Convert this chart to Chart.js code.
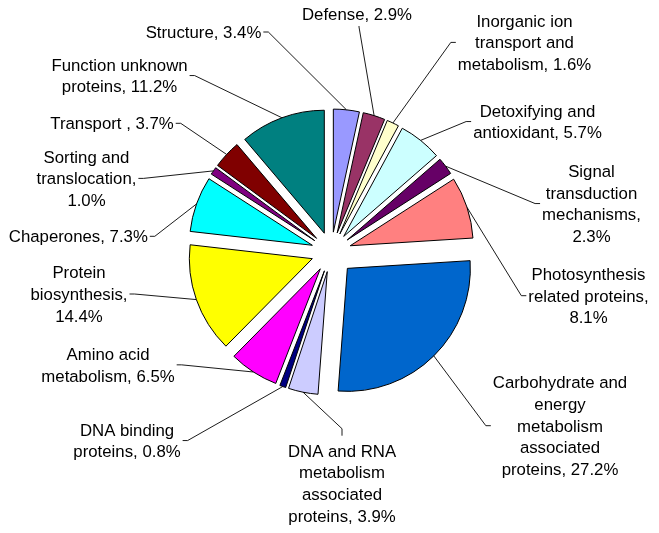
<!DOCTYPE html>
<html><head><meta charset="utf-8">
<script src="https://cdn.jsdelivr.net/npm/chart.js@4/dist/chart.umd.min.js"></script>
<style>html,body{margin:0;padding:0;background:#fff;}canvas{display:block;}</style>
</head><body>
<canvas id="c" width="659" height="533"></canvas>
<script>
// ---- data ----
const categories = [
  "Structure", "Defense", "Inorganic ion\ntransport and\nmetabolism",
  "Detoxifying and\nantioxidant", "Signal\ntransduction\nmechanisms",
  "Photosynthesis\nrelated proteins",
  "Carbohydrate and\nenergy\nmetabolism\nassociated\nproteins",
  "DNA and RNA\nmetabolism\nassociated\nproteins", "DNA binding\nproteins",
  "Amino acid\nmetabolism", "Protein\nbiosynthesis", "Chaperones",
  "Sorting and\ntranslocation", "Transport ", "Function unknown\nproteins"
];
const values = [3.4, 2.9, 1.6, 5.7, 2.3, 8.1, 27.2, 3.9, 0.8, 6.5, 14.4, 7.3, 1.0, 3.7, 11.2];
const valueOnNewLine = [0,0,0,0,1,1,0,0,0,0,1,0,1,0,0];

// ---- styles / layout ----
const colors = ["#9999FF","#993366","#FFFFCC","#CCFFFF","#660066","#FF8080","#0066CC",
  "#CCCCFF","#000080","#FF00FF","#FFFF00","#00FFFF","#800080","#800000","#008080"];
const explode = [20,20,20,20,20,20,23,20,20,20,20,20,20,20,20];
// label block: center x, first baseline y, side facing the leader line
const labelPlace = [
  [203.5, 38, "right"], [357, 20, "bottom"], [524.5, 26.7, "left"],
  [537.5, 116.7, "left"], [591.5, 177, "left"], [588.5, 280, "left"],
  [560, 388.3, "left"], [342, 456.7, "top"], [127, 435.7, "right"],
  [108, 360, "right"], [79, 278.3, "right"], [78.3, 242.3, "right"],
  [86.5, 162.7, "right"], [112, 129.3, "right"], [119.5, 70.7, "right"]
];
const FONT_SIZE = 16.8, LINE_H = 21.7;
const FONT = FONT_SIZE + 'px "Liberation Sans", Arial, sans-serif';

function labelText(i) {
  return categories[i] + "," + (valueOnNewLine[i] ? "\n" : " ") + values[i].toFixed(1) + "%";
}

const explodePlugin = {
  id: 'explode',
  beforeDatasetDraw(chart, args) {
    const ctx = chart.ctx;
    args.meta.data.forEach((arc, i) => {
      const mid = (arc.startAngle + arc.endAngle) / 2;
      const d = explode[i];
      ctx.save();
      ctx.translate(Math.cos(mid) * d, Math.sin(mid) * d);
      arc.draw(ctx);
      ctx.restore();
    });
    return false;
  },
  afterDatasetsDraw(chart) {
    const ctx = chart.ctx;
    const meta = chart.getDatasetMeta(0);
    ctx.save();
    ctx.font = FONT;
    ctx.fillStyle = "#000";
    ctx.textAlign = "center";
    ctx.textBaseline = "alphabetic";
    meta.data.forEach((arc, i) => {
      const lines = labelText(i).split("\n");
      const [cx, b1, side] = labelPlace[i];
      let w = 0;
      lines.forEach((ln, k) => {
        w = Math.max(w, ctx.measureText(ln).width);
        ctx.fillText(ln, cx, b1 + k * LINE_H);
      });
      const bLast = b1 + (lines.length - 1) * LINE_H;
      const midY = (b1 + bLast) / 2 - 6;
      let s, e;
      if (side === "right") { s = [cx + w/2 + 2, midY]; e = [cx + w/2 + 7, midY]; }
      else if (side === "left") { s = [cx - w/2 - 2, midY]; e = [cx - w/2 - 7, midY]; }
      else if (side === "top") { s = [cx, b1 - 21]; e = [cx, b1 - 28]; }
      else { s = [cx + 2, b1 + 6]; e = [cx + 2, b1 + 7]; }
      const mid = (arc.startAngle + arc.endAngle) / 2;
      const r = arc.outerRadius + explode[i];
      const px = arc.x + Math.cos(mid) * r, py = arc.y + Math.sin(mid) * r;
      ctx.beginPath();
      ctx.strokeStyle = "#000";
      ctx.lineWidth = 0.9;
      ctx.moveTo(s[0], s[1]);
      ctx.lineTo(e[0], e[1]);
      ctx.lineTo(px, py);
      ctx.stroke();
    });
    ctx.restore();
  }
};

new Chart(document.getElementById('c'), {
  type: 'pie',
  data: {
    labels: categories.map(c => c.replace(/\n/g, ' ').trim()),
    datasets: [{
      data: values,
      backgroundColor: colors,
      borderColor: '#000',
      borderWidth: 1,
      borderJoinStyle: 'miter',
      radius: 123
    }]
  },
  options: {
    responsive: false,
    animation: false,
    devicePixelRatio: 1,
    layout: { padding: { left: 3.4, right: 0, top: 0, bottom: 29 } },
    plugins: { legend: { display: false }, tooltip: { enabled: false } }
  },
  plugins: [explodePlugin]
});
</script>
</body></html>
